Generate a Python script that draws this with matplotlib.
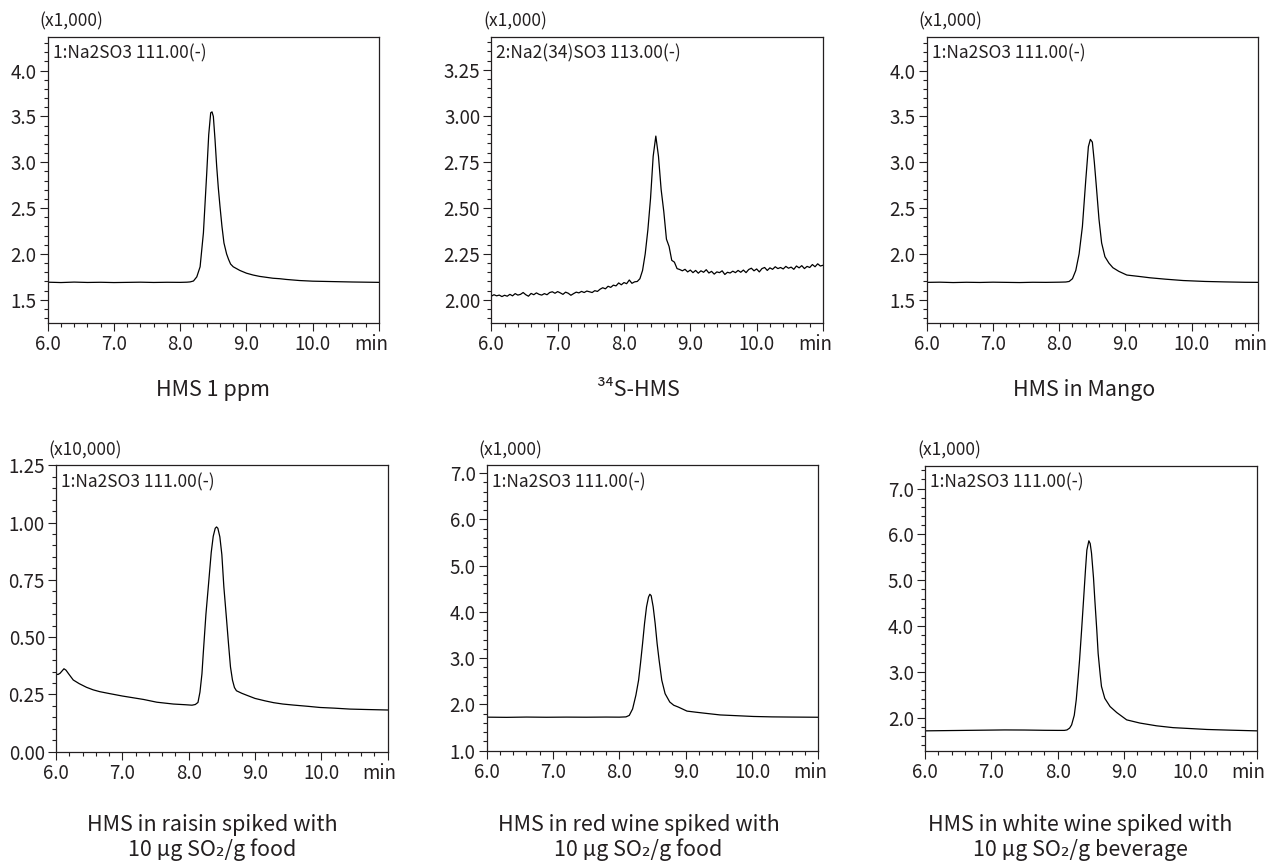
import numpy as np
import matplotlib
matplotlib.use('Agg')
import matplotlib.pyplot as plt
import matplotlib.transforms as mtransforms
from matplotlib.ticker import MultipleLocator, FormatStrFormatter

plt.rcParams['font.family'] = ['Noto Sans CJK JP', 'DejaVu Sans']

INK = '#231f20'

# ---- data (retention time in min, intensity in scale units) ----

# HMS 1 ppm
ppm_t = [6.0, 6.2, 6.4, 6.6, 6.8, 7.0, 7.2, 7.4, 7.6, 7.8,
         8.0, 8.1, 8.15, 8.2, 8.25, 8.3, 8.35, 8.4, 8.43, 8.46,
         8.48, 8.5, 8.525, 8.55, 8.575, 8.6, 8.63, 8.66, 8.7, 8.73,
         8.76, 8.8, 8.9, 9.0, 9.1, 9.2, 9.3, 9.4, 9.5, 9.6,
         9.8, 10.0, 10.2, 10.4, 10.6, 10.8, 11.0]
ppm_y = [1.692, 1.688, 1.693, 1.689, 1.691, 1.688, 1.690, 1.692, 1.689, 1.691,
         1.690, 1.692, 1.695, 1.705, 1.75, 1.86, 2.23, 2.88, 3.30, 3.54,
         3.55, 3.50, 3.25, 2.96, 2.72, 2.52, 2.30, 2.12, 2.00, 1.94,
         1.89, 1.86, 1.82, 1.79, 1.77, 1.755, 1.745, 1.735, 1.73, 1.722,
         1.71, 1.703, 1.700, 1.697, 1.694, 1.692, 1.690]

# 34S-HMS, sampled every 0.04 min from 6.00
s34_y = [2.020, 2.028, 2.022, 2.026, 2.018, 2.025, 2.020, 2.030, 2.022, 2.034,
         2.026, 2.030, 2.040, 2.028, 2.020, 2.035, 2.028, 2.038, 2.030, 2.026,
         2.034, 2.028, 2.040, 2.044, 2.036, 2.045, 2.038, 2.030, 2.042, 2.036,
         2.025, 2.034, 2.042, 2.038, 2.046, 2.040, 2.048, 2.044, 2.040, 2.050,
         2.046, 2.058, 2.066, 2.060, 2.074, 2.068, 2.080, 2.076, 2.092, 2.082,
         2.094, 2.088, 2.108, 2.090, 2.098,
         2.100, 2.115, 2.160, 2.250, 2.380, 2.550, 2.780, 2.890, 2.780, 2.600,
         2.480, 2.330, 2.290, 2.215, 2.205, 2.170,
         2.165, 2.158, 2.166, 2.152, 2.162, 2.148, 2.160, 2.145, 2.158, 2.150,
         2.164, 2.146, 2.155, 2.140, 2.152, 2.148, 2.158, 2.138, 2.150, 2.146,
         2.156, 2.148, 2.160, 2.150, 2.162, 2.148, 2.165, 2.172, 2.158, 2.168,
         2.152, 2.170, 2.176, 2.160, 2.174, 2.166, 2.180, 2.170, 2.176, 2.168,
         2.182, 2.172, 2.178, 2.166, 2.184, 2.174, 2.186, 2.170, 2.182, 2.176,
         2.192, 2.180, 2.196, 2.184, 2.188]
s34_t = np.round(6.0 + 0.04 * np.arange(len(s34_y)), 2)

# HMS in Mango
mango_t = [6.0, 6.2, 6.4, 6.6, 6.8, 7.0, 7.2, 7.4, 7.6, 7.8,
           8.0, 8.1, 8.15, 8.2, 8.25, 8.3, 8.35, 8.4, 8.44, 8.47,
           8.5, 8.53, 8.56, 8.6, 8.64, 8.69, 8.75, 8.81, 8.9, 9.02,
           9.2, 9.37, 9.6, 9.87, 10.2, 10.5, 10.8, 11.0]
mango_y = [1.690, 1.692, 1.688, 1.691, 1.689, 1.692, 1.690, 1.688, 1.691, 1.690,
           1.692, 1.694, 1.70, 1.73, 1.82, 2.00, 2.30, 2.80, 3.17, 3.25,
           3.22, 3.00, 2.74, 2.38, 2.12, 1.97, 1.90, 1.85, 1.81, 1.77,
           1.755, 1.74, 1.725, 1.71, 1.70, 1.695, 1.691, 1.690]

# HMS in raisin (x10,000)
raisin_t = [6.0, 6.03, 6.06, 6.09, 6.12, 6.15, 6.19, 6.26, 6.35, 6.46,
            6.56, 6.66, 6.8, 7.0, 7.15, 7.32, 7.52, 7.77, 7.95, 8.05,
            8.1, 8.14, 8.17, 8.2, 8.22, 8.26, 8.3, 8.34, 8.37, 8.4,
            8.42, 8.44, 8.47, 8.5, 8.53, 8.57, 8.6, 8.63, 8.66, 8.69,
            8.72, 8.8, 8.87, 9.0, 9.15, 9.28, 9.42, 9.58, 9.8, 9.98,
            10.2, 10.43, 10.7, 11.0]
raisin_y = [0.339, 0.337, 0.342, 0.352, 0.362, 0.356, 0.340, 0.313, 0.297, 0.281,
            0.270, 0.262, 0.254, 0.243, 0.236, 0.228, 0.216, 0.208, 0.205, 0.203,
            0.206, 0.215, 0.26, 0.34, 0.43, 0.60, 0.734, 0.87, 0.94, 0.975,
            0.981, 0.975, 0.9375, 0.86, 0.72, 0.58, 0.472, 0.37, 0.3125, 0.28,
            0.266, 0.255, 0.247, 0.2325, 0.222, 0.214, 0.208, 0.2035, 0.198, 0.193,
            0.190, 0.186, 0.184, 0.182]

# HMS in red wine
red_t = [6.0, 6.3, 6.6, 6.9, 7.2, 7.5, 7.8, 8.0, 8.1, 8.15,
         8.2, 8.25, 8.29, 8.32, 8.35, 8.38, 8.41, 8.44, 8.46, 8.48,
         8.51, 8.54, 8.57, 8.6, 8.64, 8.69, 8.76, 8.82, 8.89, 9.02,
         9.15, 9.27, 9.52, 9.75, 10.02, 10.3, 10.6, 11.0]
red_y = [1.722, 1.718, 1.724, 1.720, 1.723, 1.721, 1.724, 1.722, 1.728, 1.76,
         1.90, 2.20, 2.52, 2.90, 3.31, 3.75, 4.11, 4.32, 4.38, 4.35,
         4.11, 3.75, 3.31, 2.95, 2.52, 2.23, 2.05, 1.98, 1.94, 1.853,
         1.83, 1.81, 1.77, 1.755, 1.737, 1.728, 1.724, 1.72]

# HMS in white wine
white_t = [6.0, 6.3, 6.6, 6.9, 7.2, 7.5, 7.8, 8.0, 8.1, 8.14,
           8.18, 8.21, 8.25, 8.28, 8.31, 8.33, 8.36, 8.39, 8.42, 8.44,
           8.47, 8.49, 8.51, 8.54, 8.56, 8.59, 8.61, 8.64, 8.66, 8.71,
           8.79, 8.89, 9.04, 9.24, 9.49, 9.74, 10.0, 10.25, 10.6, 11.0]
white_y = [1.71, 1.715, 1.72, 1.725, 1.73, 1.728, 1.722, 1.72, 1.72, 1.73,
           1.77, 1.84, 2.05, 2.39, 2.90, 3.26, 3.90, 4.57, 5.25, 5.66,
           5.86, 5.80, 5.59, 5.05, 4.57, 3.90, 3.40, 2.95, 2.68, 2.42,
           2.24, 2.11, 1.95, 1.88, 1.82, 1.78, 1.76, 1.74, 1.725, 1.71]

x_ticks = [6, 7, 8, 9, 10, 11]
x_labels = ['6.0', '7.0', '8.0', '9.0', '10.0', 'min']

# ---- figure ----
W, H = 1268, 863
fig = plt.figure(figsize=(W / 100, H / 100), dpi=100)


def add_axes(left, top, right, bottom):
    return fig.add_axes([left / W, 1 - bottom / H, (right - left) / W, (bottom - top) / H])


def draw_panel(ax, t, y, ylim, major, minor, fmt, scale, channel):
    ax.plot(t, y, color='black', lw=0.9)
    ax.set_xlim(6.0, 11.0)
    ax.set_ylim(*ylim)
    ax.set_xticks(x_ticks)
    ax.set_xticklabels(x_labels)
    ax.xaxis.set_minor_locator(MultipleLocator(0.2))
    ax.yaxis.set_major_locator(MultipleLocator(major))
    ax.yaxis.set_minor_locator(MultipleLocator(minor))
    ax.yaxis.set_major_formatter(FormatStrFormatter(fmt))
    ax.tick_params(which='both', direction='out', colors=INK, width=0.8,
                   labelsize=13.5, pad=2)
    ax.tick_params(which='major', length=6)
    ax.tick_params(which='minor', length=3.2)
    for s in ax.spines.values():
        s.set_color(INK)
        s.set_linewidth(0.9)
    # the "min" unit label sits a little left of the last tick
    shift = mtransforms.ScaledTranslation(-8 / 100, 0, fig.dpi_scale_trans)
    last = ax.get_xticklabels()[-1]
    last.set_transform(last.get_transform() + shift)
    ax.annotate(scale, xy=(0, 1), xycoords='axes fraction', xytext=(-8, 15),
                textcoords='offset pixels', ha='left', va='center',
                fontsize=12.5, color=INK)
    ax.annotate(channel, xy=(0, 1), xycoords='axes fraction', xytext=(5, -17),
                textcoords='offset pixels', ha='left', va='center',
                fontsize=12.5, color=INK)


ax1 = add_axes(47.7, 36.7, 379, 322.7)
draw_panel(ax1, ppm_t, ppm_y, (1.25, 4.37), 0.5, 0.1, '%.1f', '(x1,000)', '1:Na2SO3 111.00(-)')

ax2 = add_axes(491.3, 36.7, 823, 322.7)
draw_panel(ax2, s34_t, s34_y, (1.876, 3.43), 0.25, 0.05, '%.2f', '(x1,000)', '2:Na2(34)SO3 113.00(-)')

ax3 = add_axes(926.7, 36.7, 1258, 322.7)
draw_panel(ax3, mango_t, mango_y, (1.25, 4.37), 0.5, 0.1, '%.1f', '(x1,000)', '1:Na2SO3 111.00(-)')

ax4 = add_axes(56, 465.3, 387.7, 751.7)
draw_panel(ax4, raisin_t, raisin_y, (0.0, 1.25), 0.25, 0.05, '%.2f', '(x10,000)', '1:Na2SO3 111.00(-)')

ax5 = add_axes(486.7, 465.3, 818.3, 751)
draw_panel(ax5, red_t, red_y, (0.99, 7.17), 1.0, 0.2, '%.1f', '(x1,000)', '1:Na2SO3 111.00(-)')

ax6 = add_axes(925, 465.7, 1256.7, 751)
draw_panel(ax6, white_t, white_y, (1.27, 7.5), 1.0, 0.2, '%.1f', '(x1,000)', '1:Na2SO3 111.00(-)')

# ---- captions ----
def caption(cx, base, text):
    fig.text(cx / W, 1 - base / H, text, ha='center', va='baseline',
             fontsize=15.5, color=INK)


caption(212.5, 396, 'HMS 1 ppm')
caption(638, 396, '³⁴S-HMS')
caption(1084, 396, 'HMS in Mango')

caption(212, 830.7, 'HMS in raisin spiked with')
caption(212, 856, '10 µg SO₂/g food')
caption(638.5, 830.7, 'HMS in red wine spiked with')
caption(638.5, 856, '10 µg SO₂/g food')
caption(1080.5, 830.7, 'HMS in white wine spiked with')
caption(1080.5, 856, '10 µg SO₂/g beverage')

fig.savefig('out.png', dpi=100)
